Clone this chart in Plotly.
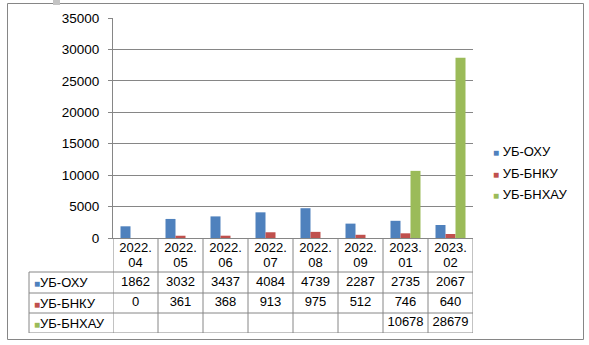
import plotly.graph_objects as go

# ---------------- data ----------------
categories = ["2022.04", "2022.05", "2022.06", "2022.07", "2022.08", "2022.09", "2023.01", "2023.02"]
series_names = ["УБ-ОХУ", "УБ-БНКУ", "УБ-БНХАУ"]
ub_oxu = [1862, 3032, 3437, 4084, 4739, 2287, 2735, 2067]
ub_bnku = [0, 361, 368, 913, 975, 512, 746, 640]
ub_bnhau = [None, None, None, None, None, None, 10678, 28679]
y_ticks = [0, 5000, 10000, 15000, 20000, 25000, 30000, 35000]

series_values = [ub_oxu, ub_bnku, ub_bnhau]
colors = ["#4F81BD", "#C0504D", "#9BBB59"]

# ---------------- layout helpers (pixels -> paper) ----------------
W, H = 589, 345
def px(x):
    return x / W
def py(y):
    return 1 - y / H

FONT = "Liberation Sans, Arial, sans-serif"
GRID = "#868686"

PLOT_L, PLOT_R = 113, 473
PLOT_T, PLOT_B = 18, 238
# table rows measured downward from the x axis (pixels)
row_edges = [0, 34, 55, 75, 95]
row_centers = [(row_edges[i] + row_edges[i + 1]) / 2 for i in range(4)]
header_line_y = [10.5, 25.5]

fig = go.Figure()

# bars
for name, vals, col in zip(series_names, series_values, colors):
    fig.add_trace(go.Bar(
        x=categories, y=vals, name=name, marker=dict(color=col, line=dict(width=0)),
        showlegend=False, xaxis="x", yaxis="y",
    ))

# table: header row (category labels, two lines "YYYY." / "MM")
header_parts = [[c.split(".")[0] + "." for c in categories], [c.split(".")[1] for c in categories]]
for part, ly in zip(header_parts, header_line_y):
    fig.add_trace(go.Scatter(
        x=categories, y=[ly] * len(categories), text=part,
        mode="text", textposition="middle center", cliponaxis=False,
        textfont=dict(family=FONT, size=13, color="#000000"),
        showlegend=False, hoverinfo="skip", xaxis="x2", yaxis="y2",
    ))
# table: values
for i, vals in enumerate(series_values):
    fig.add_trace(go.Scatter(
        x=categories, y=[row_centers[i + 1]] * len(categories),
        text=["" if v is None else str(v) for v in vals],
        mode="text", textposition="middle center", cliponaxis=False,
        textfont=dict(family=FONT, size=13, color="#000000"),
        showlegend=False, hoverinfo="skip", xaxis="x2", yaxis="y2",
    ))

shapes = []
# outer chart border
shapes.append(dict(type="rect", xref="paper", yref="paper", x0=px(7.5), x1=px(583.5), y0=py(3.5), y1=py(339.5),
                   line=dict(color=GRID, width=1), fillcolor="rgba(0,0,0,0)", layer="below"))
# small gray mark top-left
shapes.append(dict(type="rect", xref="paper", yref="paper", x0=px(53), x1=px(60), y0=py(0), y1=py(5),
                   line=dict(width=0), fillcolor="#c4c4c4"))
# table horizontal lines
for e in row_edges[1:]:
    shapes.append(dict(type="line", xref="paper", yref="y2", x0=px(29), x1=px(PLOT_R), y0=e, y1=e,
                       line=dict(color=GRID, width=1)))
# table vertical lines at category boundaries
for i in range(len(categories) + 1):
    shapes.append(dict(type="line", xref="x2", yref="y2", x0=i - 0.5, x1=i - 0.5,
                       y0=row_edges[0], y1=row_edges[-1], line=dict(color=GRID, width=1)))
# table left border
shapes.append(dict(type="line", xref="paper", yref="y2", x0=px(29), x1=px(29),
                   y0=row_edges[1], y1=row_edges[-1], line=dict(color=GRID, width=1)))

annotations = []
# row labels in table
for i, (name, col) in enumerate(zip(series_names, colors)):
    annotations.append(dict(
        xref="paper", yref="y2", x=px(32), y=row_centers[i + 1], xanchor="left", yanchor="middle",
        text=f"<span style='color:{col};font-size:10px'>■</span>{name}", showarrow=False,
        font=dict(family=FONT, size=13, color="#000000"),
    ))
# legend
legend_y = [151, 173, 195]
for name, col, ly in zip(series_names, colors, legend_y):
    annotations.append(dict(
        xref="paper", yref="paper", x=px(491), y=py(ly), xanchor="left", yanchor="middle",
        text=f"<span style='color:{col};font-size:10px'>■</span> {name}", showarrow=False,
        font=dict(family=FONT, size=13, color="#000000"),
    ))

fig.update_layout(
    template="none",
    width=W, height=H, margin=dict(l=0, r=0, t=0, b=0, pad=0, autoexpand=False),
    paper_bgcolor="white", plot_bgcolor="white",
    barmode="group", bargap=1 / 3, bargroupgap=0,
    showlegend=False,
    font=dict(family=FONT, size=13, color="#000000"),
    xaxis=dict(domain=[px(PLOT_L), px(PLOT_R)], type="category", range=[-0.5, len(categories) - 0.5],
               showticklabels=False, ticks="", showgrid=False, zeroline=False, automargin=False,
               showline=True, linecolor=GRID, linewidth=1, anchor="y"),
    yaxis=dict(domain=[py(PLOT_B), py(PLOT_T)], range=[0, 35000], tickvals=y_ticks,
               ticktext=[str(v) for v in y_ticks], automargin=False,
               showgrid=True, gridcolor=GRID, gridwidth=1, zeroline=False,
               showline=True, linecolor=GRID, linewidth=1, ticks="outside", ticklen=4, tickcolor=GRID,
               tickfont=dict(family=FONT, size=13.5, color="#000000"), ticklabelstandoff=6, anchor="x"),
    xaxis2=dict(domain=[px(PLOT_L), px(PLOT_R)], matches="x", type="category", visible=False,
                automargin=False, anchor="y2"),
    yaxis2=dict(domain=[py(PLOT_B + row_edges[-1]), py(PLOT_B)], range=[row_edges[-1], 0],
                visible=False, automargin=False, anchor="x2"),
    shapes=shapes, annotations=annotations,
)

fig.write_html("out.html")
